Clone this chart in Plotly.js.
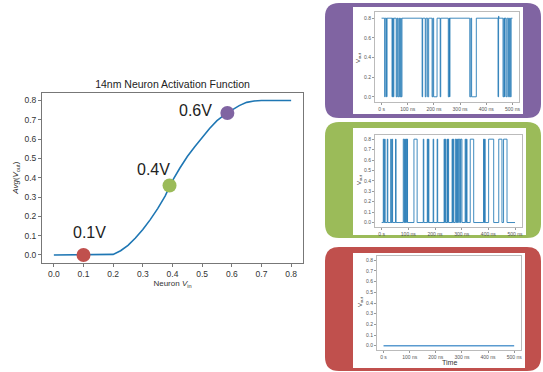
<!DOCTYPE html>
<html>
<head>
<meta charset="utf-8">
<script src="https://cdn.plot.ly/plotly-3.0.1.min.js"></script>
<style>html,body{margin:0;padding:0;background:#fff;}#chart{width:543px;height:372px;}</style>
</head>
<body>
<div id="chart"></div>
<script>
// ---- Data ----
// Activation function curve
const vin = [0, 0.05, 0.1, 0.15, 0.2, 0.225, 0.25, 0.275, 0.3, 0.325, 0.35, 0.375, 0.4, 0.425, 0.45, 0.475, 0.5, 0.525, 0.55, 0.575, 0.6, 0.625, 0.65, 0.675, 0.7, 0.75, 0.8];
const avgVout = [0, 0, 0, 0, 0.003, 0.022, 0.05, 0.088, 0.132, 0.183, 0.24, 0.305, 0.385, 0.45, 0.51, 0.56, 0.61, 0.655, 0.695, 0.725, 0.75, 0.773, 0.79, 0.797, 0.8, 0.8, 0.8];
// Highlighted operating points
const pointVin = [0.1, 0.39, 0.585];
const pointAvg = [0.0, 0.36, 0.735];
const pointLabels = ["0.1V", "0.4V", "0.6V"];
const pointColors = ["#C0504D", "#9BBB59", "#8064A2"];
// Time traces (ns, V) for 0.6V (purple), 0.4V (green), 0.1V (red)
const tPurple = [0,12,14,19,21,40,42,45,47,56,59,62,66,69,73,75,78,155,157,167,170,176,180,193,196,199,212,224,226,255,258,260,261,337,341,344,362,445,447,448,464,467,470,471,476,480,485,489,492,495,500];
const vPurple = [0.8,0,0.8,0,0.8,0,0.8,0,0.8,0,0.8,0,0.8,0,0.8,0,0.8,0,0.8,0,0.8,0,0.8,0,0.8,0,0.8,0,0.8,0,0.8,0,0.8,0,0.8,0,0.8,0,0.82,0.8,0,0.8,0,0.8,0,0.8,0,0.8,0,0.8,0.8];
const tGreen = [0,6,8,11,13,21,23,34,36,39,41,52,54,81,84,86,89,91,94,95,97,121,133,156,158,171,173,175,177,193,195,208,210,234,236,238,240,245,247,249,251,264,266,268,270,276,279,281,284,286,289,291,295,297,301,313,315,318,320,332,345,382,384,386,388,401,420,439,451,457,470,500];
const vGreen = [0,0.8,0,0.8,0,0.8,0,0.8,0,0.8,0,0.8,0,0.8,0,0.8,0,0.8,0,0.8,0,0.8,0,0.8,0,0.8,0,0.8,0,0.8,0,0.8,0,0.8,0,0.8,0,0.8,0,0.8,0,0.8,0,0.8,0,0.8,0,0.8,0,0.8,0,0.8,0,0.8,0,0.8,0,0.8,0,0.8,0,0.8,0,0.8,0,0.8,0,0.8,0,0.8,0,0];
const tRed = [0, 500];
const vRed = [0, 0];
// Tick labels
const actTicks = [0, 0.1, 0.2, 0.3, 0.4, 0.5, 0.6, 0.7, 0.8];
const timeTickVals = [0, 100, 200, 300, 400, 500];
const timeTickText = ["0 s", "100 ns", "200 ns", "300 ns", "400 ns", "500 ns"];

// ---- Layout helpers (pixel -> paper) ----
const W = 543, H = 372;
const px = x => x / W;
const py = y => 1 - y / H;
function roundRect(x0, y0, x1, y1, r) {
  const rx = r / W, ry = r / H;
  const a = px(x0), b = px(x1), t = py(y0), u = py(y1);
  return `M ${a + rx},${t} L ${b - rx},${t} Q ${b},${t} ${b},${t - ry} L ${b},${u + ry} Q ${b},${u} ${b - rx},${u} L ${a + rx},${u} Q ${a},${u} ${a},${u + ry} L ${a},${t - ry} Q ${a},${t} ${a + rx},${t} Z`;
}
function rect(x0, y0, x1, y1, color) {
  return {type: 'rect', xref: 'paper', yref: 'paper', x0: px(x0), x1: px(x1), y0: py(y1), y1: py(y0),
          fillcolor: color, line: {width: 0}, layer: 'below'};
}

const FONT = 'Liberation Sans, Arial, sans-serif';
const traceLine = {color: '#1f77b4', width: 1};

const traces = [
  {x: vin, y: avgVout, type: 'scatter', mode: 'lines', line: {color: '#1f77b4', width: 1.6}, xaxis: 'x', yaxis: 'y', hoverinfo: 'skip'},
  {x: pointVin, y: pointAvg, type: 'scatter', mode: 'markers', marker: {color: pointColors, size: 14}, xaxis: 'x', yaxis: 'y'},
  {x: tPurple, y: vPurple, type: 'scatter', mode: 'lines', line: Object.assign({shape: 'hv'}, traceLine), opacity: 0.85, xaxis: 'x2', yaxis: 'y2'},
  {x: tGreen, y: vGreen, type: 'scatter', mode: 'lines', line: Object.assign({shape: 'hv'}, traceLine), opacity: 0.85, xaxis: 'x3', yaxis: 'y3'},
  {x: tRed, y: vRed, type: 'scatter', mode: 'lines', line: {color: '#5a9bd0', width: 1.6}, xaxis: 'x4', yaxis: 'y4'}
];

const mainAxis = {showgrid: false, zeroline: false, showline: true, mirror: true, linecolor: '#777', linewidth: 1,
  ticks: 'outside', ticklen: 3, tickcolor: '#777', tickfont: {size: 8.5, color: '#333', family: FONT}};
const panelAxis = {showgrid: false, zeroline: false, showline: true, mirror: true, linecolor: '#bbb', linewidth: 1,
  ticks: 'outside', ticklen: 2, tickcolor: '#999', tickfont: {size: 5, color: '#555', family: FONT}};

function panelX(domain, anchor) {
  return Object.assign({}, panelAxis, {domain: domain, anchor: anchor, range: [-25, 525], tickvals: timeTickVals, ticktext: timeTickText});
}
function panelY(domain, anchor, range, dtick) {
  return Object.assign({}, panelAxis, {domain: domain, anchor: anchor, range: range, tickmode: 'linear', tick0: 0, dtick: dtick, tickformat: '.1f'});
}

const annotations = pointLabels.map((t, i) => ({
  text: t, xref: 'x', yref: 'y', x: [0.119, 0.337, 0.478][i], y: [0.115, 0.445, 0.749][i],
  showarrow: false, font: {size: 16, color: '#222', family: FONT}
}));
[[359, 58], [359, 180], [360, 302]].forEach(p => annotations.push({
  text: 'V<sub>out</sub>', xref: 'paper', yref: 'paper', x: px(p[0]), y: py(p[1]), textangle: -90,
  showarrow: false, xanchor: 'center', yanchor: 'middle', font: {size: 6, color: '#333', family: FONT}
}));
annotations.push({text: 'Time', xref: 'paper', yref: 'paper', x: px(449), y: py(362), showarrow: false,
  xanchor: 'center', yanchor: 'middle', font: {size: 7, color: '#333', family: FONT}});

const layout = {
  width: W, height: H, margin: {l: 0, r: 0, t: 0, b: 0}, showlegend: false,
  paper_bgcolor: '#ffffff', plot_bgcolor: 'rgba(0,0,0,0)',
  title: {text: '14nm Neuron Activation Function', x: px(172.5), y: py(84), xanchor: 'center', yanchor: 'middle',
          font: {size: 10.5, color: '#222', family: FONT}},
  xaxis: Object.assign({}, mainAxis, {domain: [px(42), px(303)], anchor: 'y', range: [-0.04, 0.84], tickvals: actTicks, tickformat: '.1f',
    title: {text: 'Neuron <i>V</i><sub>in</sub>', standoff: 0, font: {size: 8, color: '#333', family: FONT}}}),
  yaxis: Object.assign({}, mainAxis, {domain: [py(262.7), py(92.7)], anchor: 'x', range: [-0.04, 0.84], tickvals: actTicks, tickformat: '.1f',
    title: {text: '<i>Avg</i>(<i>V</i><sub>out</sub>)', standoff: 4, font: {size: 8, color: '#333', family: FONT}}}),
  xaxis2: panelX([px(375), px(519)], 'y2'),
  yaxis2: panelY([py(101.7), py(12.3)], 'x2', [-0.05, 0.86], 0.2),
  xaxis3: panelX([px(375), px(521.7)], 'y3'),
  yaxis3: panelY([py(226.7), py(135)], 'x3', [-0.04, 0.84], 0.1),
  xaxis4: panelX([px(377), px(520.7)], 'y4'),
  yaxis4: panelY([py(350), py(256)], 'x4', [-0.04, 0.84], 0.1),
  shapes: [
    {type: 'path', xref: 'paper', yref: 'paper', path: roundRect(325, 3, 541, 118, 14), fillcolor: '#8064A2', line: {width: 0}, layer: 'below'},
    {type: 'path', xref: 'paper', yref: 'paper', path: roundRect(325, 122, 541, 238, 14), fillcolor: '#9BBB59', line: {width: 0}, layer: 'below'},
    {type: 'path', xref: 'paper', yref: 'paper', path: roundRect(325, 247, 541, 371, 14), fillcolor: '#C0504D', line: {width: 0}, layer: 'below'},
    rect(353, 7, 523, 114, '#ffffff'),
    rect(353, 128, 526, 235, '#ffffff'),
    rect(353, 253, 525, 368, '#ffffff')
  ],
  annotations: annotations
};

Plotly.newPlot('chart', traces, layout, {displayModeBar: false, staticPlot: true});
</script>
</body>
</html>
